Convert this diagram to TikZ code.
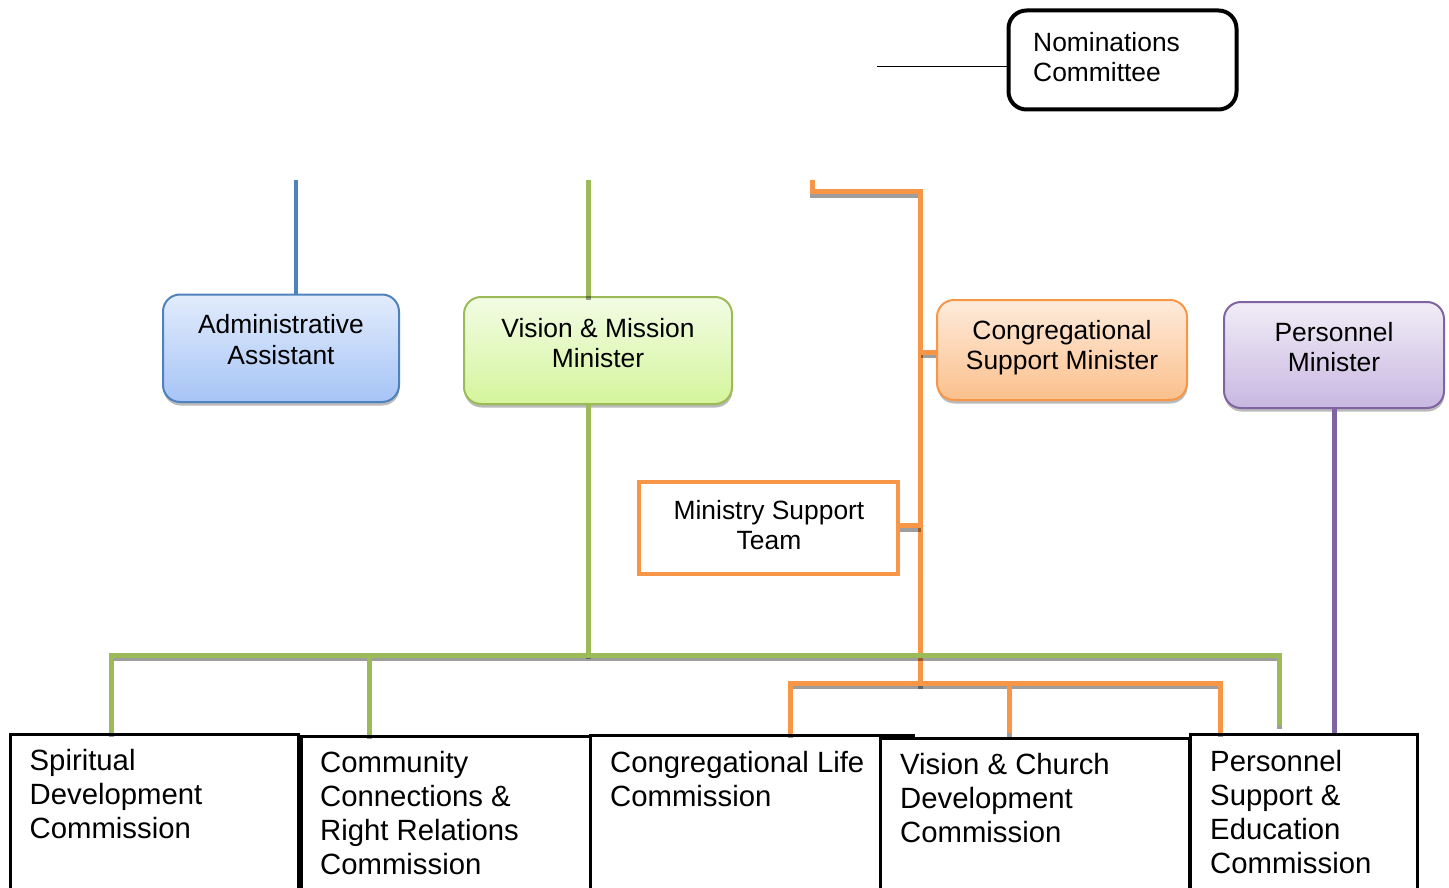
\documentclass[tikz,border=0pt]{standalone}
\usepackage{fontspec}
\setmainfont{Liberation Sans}
\usetikzlibrary{shadows}

\definecolor{adminEdge}{HTML}{4F81BD}
\definecolor{adminTop}{HTML}{E2ECFC}
\definecolor{adminBot}{HTML}{A6C4F6}
\definecolor{visEdge}{HTML}{9BBB59}
\definecolor{visTop}{HTML}{F2FCE4}
\definecolor{visBot}{HTML}{D5F59C}
\definecolor{supEdge}{HTML}{F79646}
\definecolor{supTop}{HTML}{FEEBDC}
\definecolor{supBot}{HTML}{FBC08C}
\definecolor{perEdge}{HTML}{8064A2}
\definecolor{perTop}{HTML}{F1EDF7}
\definecolor{perBot}{HTML}{C8B7E1}

\begin{document}
\begin{tikzpicture}[x=1pt,y=-1pt,
  upfont/.style={font=\fontsize{26.4}{30.5}\selectfont},
  lowfont/.style={font=\fontsize{29.3}{34}\selectfont},
  ctext/.style={upfont, anchor=north, inner sep=0pt, align=center},
  ltext/.style={lowfont, anchor=north west, inner sep=0pt, align=left},
  minbox/.style={draw, rounded corners=17pt, line width=2pt, inner sep=0pt,
    drop shadow={shadow xshift=0.5pt, shadow yshift=-3.5pt, opacity=.45, fill=black!60}},
  combox/.style={draw=black, fill=white, line width=3pt, inner sep=0pt},
  wire/.style={line width=5pt,
    preaction={draw=black, line width=5pt, opacity=.38, transform canvas={yshift=-3.5pt}}},
]
\useasboundingbox (0,0) rectangle (1449,888);
\clip (0,0) rectangle (1449,888);

% ---- Nominations Committee ----
\node[draw=black, line width=4pt, rounded corners=18pt, minimum width=228pt, minimum height=99pt]
  (nom) at (1122.5,60) {};
\node[upfont, anchor=north west, inner sep=0pt, align=left] (nomT) at (1033,29.7)
  {\strut Nominations\\Committee};
\coordinate (nomL) at (877,66.7);
\draw[line width=1.5pt] (nomL) -- (nomL -| nom.west);

% ---- minister boxes ----
\node[minbox, draw=adminEdge, top color=adminTop, bottom color=adminBot,
  minimum width=236pt, minimum height=107.5pt] (admin) at (281,348.25) {};
\node[ctext] (adminT) at (281,312) {\strut Administrative\\Assistant};

\node[minbox, draw=visEdge, top color=visTop, bottom color=visBot,
  minimum width=268pt, minimum height=107pt] (vm) at (598,350.5) {};
\node[ctext] (vmT) at (598,315.8) {\strut Vision \& Mission\\Minister};

\node[minbox, draw=supEdge, top color=supTop, bottom color=supBot,
  minimum width=250pt, minimum height=100pt] (csm) at (1062,350) {};
\node[ctext] (csmT) at (1062,317.8) {\strut Congregational\\Support Minister};

\node[minbox, draw=perEdge, top color=perTop, bottom color=perBot,
  minimum width=220pt, minimum height=106pt] (pm) at (1334,355) {};
\node[ctext] (pmT) at (1334,319.8) {\strut Personnel\\Minister};

\node[draw=supEdge, fill=white, line width=4pt, minimum width=259pt, minimum height=92pt]
  (mst) at (768.5,528) {};
\node[ctext] (mstT) at (769,497.8) {\strut Ministry Support\\Team};

% ---- orange (congregational support) connectors ----
\coordinate (oTop) at (812.5,180);
\coordinate (oCorner) at (920.5,191.5);
\coordinate (oBot) at (920.5,685);
\coordinate (oL) at (790,683);
\coordinate (oM) at (1009,683);
\coordinate (oR) at (1220.5,683);

% ---- green (vision & mission) connectors ----
\coordinate (gTop) at (588,180);
\coordinate (busL) at (111.5,655);
\coordinate (busM) at (588,655);
\coordinate (busC) at (369.5,655);
\coordinate (busR) at (1279.5,655);
\coordinate (busRend) at (1279.5,725);

% ---- commission boxes ----
\node[combox, minimum width=323pt, minimum height=170pt, anchor=north west] (cl) at (589,734) {};
\node[combox, minimum width=288pt, minimum height=170pt, anchor=north west] (sdc) at (8.5,733) {};
\node[combox, minimum width=289pt, minimum height=170pt, anchor=north west] (ccr) at (300,735) {};
\node[combox, minimum width=309pt, minimum height=170pt, anchor=north west] (vc) at (879,737) {};
\node[combox, minimum width=227pt, minimum height=170pt, anchor=north west] (pse) at (1189,733) {};

\node[ltext] (sdcT) at (29.5,746.5) {\strut Spiritual\\Development\\Commission};
\node[ltext] (ccrT) at (320,748) {\strut Community\\Connections \&\\Right Relations\\Commission};
\node[ltext] (clT) at (610,748) {\strut Congregational Life\\Commission};
\node[ltext] (vcT) at (900,750) {\strut Vision \& Church\\Development\\Commission};
\node[ltext] (pseT) at (1210,747) {\strut Personnel\\Support \&\\Education\\Commission};

% ---- connectors ----
\draw[draw=adminEdge, line width=4.5pt] (296,180) coordinate (bTop) -- (bTop |- admin.north);

\draw[wire, draw=supEdge] (oTop) -- (oTop |- oCorner) -- (oCorner) -- (oBot);
\draw[wire, draw=supEdge] (oCorner |- 0,352) -- (csm.west |- 0,352);
\draw[wire, draw=supEdge] (mst.east |- 0,525.5) -- (oCorner |- 0,525.5);
\draw[wire, draw=supEdge] (oL |- cl.north) -- (oL) -- (oR) -- (oR |- pse.north);
\draw[wire, draw=supEdge] (oM) -- (oM |- 0,733);

\draw[wire, draw=visEdge] (gTop) -- (gTop |- vm.north);
\draw[wire, draw=visEdge] (gTop |- vm.south) -- (busM);
\draw[wire, draw=visEdge] (busL |- sdc.north) -- (busL) -- (busR) -- (busRend);
\draw[wire, draw=visEdge] (busC) -- (busC |- ccr.north);

\draw[draw=perEdge, line width=5pt] (pm.south) -- (pm.south |- pse.north);
\end{tikzpicture}
\end{document}
